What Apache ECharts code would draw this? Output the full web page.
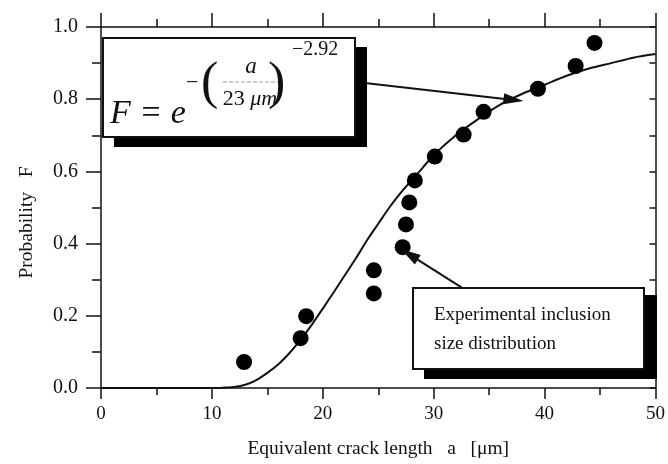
<!DOCTYPE html>
<html>
<head>
<meta charset="utf-8">
<script src="https://cdn.jsdelivr.net/npm/echarts@6/dist/echarts.min.js"></script>
<style>
html,body{margin:0;padding:0;background:#fff;}
#chart{width:668px;height:464px;}
</style>
</head>
<body>
<div id="chart"></div>
<script>
// Experimental inclusion size distribution (equivalent crack length a [µm], probability F)
const expA = [12.9, 18.0, 18.5, 24.6, 24.6, 27.2, 27.5, 27.8, 28.3, 30.1, 32.7, 34.5, 39.4, 42.8, 44.5];
const expF = [0.072, 0.138, 0.199, 0.262, 0.326, 0.390, 0.453, 0.514, 0.575, 0.641, 0.702, 0.765, 0.829, 0.892, 0.956];

// Fitted curve
const fitA = [0, 5, 10, 11, 12, 13, 14, 15, 16, 17, 18, 19, 20, 21, 22, 23, 24, 25, 26, 27, 28, 29, 30, 32, 34, 36, 38, 40, 42, 44, 46, 48, 50];
const fitF = [0, 0, 0, 0.001, 0.003, 0.009, 0.022, 0.042, 0.066, 0.097, 0.134, 0.175, 0.22, 0.266, 0.313, 0.36, 0.41, 0.455, 0.50, 0.54, 0.575, 0.61, 0.645, 0.70, 0.745, 0.785, 0.815, 0.84, 0.865, 0.885, 0.90, 0.915, 0.925];

// Axis ticks
const xTicks = [0, 10, 20, 30, 40, 50];
const yTicks = ['0.0', '0.2', '0.4', '0.6', '0.8', '1.0'];

// Annotation arrows (data coordinates: tail -> tip)
const arrowFit = [[23.8, 0.845], [37.2, 0.798]];
const arrowExp = [[32.5, 0.279], [27.8, 0.370]];

const FONT = '"Liberation Serif", "Times New Roman", serif';
const INK = '#111';

const chart = echarts.init(document.getElementById('chart'));

const axisLineStyle = { color: INK, width: 1.5 };

const option = {
  animation: false,
  backgroundColor: '#fff',
  grid: { left: 101, right: 9, top: 27, bottom: 75 },
  xAxis: [
    {
      type: 'value', min: xTicks[0], max: xTicks[xTicks.length - 1], interval: 10,
      position: 'bottom',
      axisLine: { onZero: false, lineStyle: axisLineStyle },
      axisTick: { inside: false, length: 11, lineStyle: axisLineStyle },
      minorTick: { show: true, splitNumber: 2, length: 7, lineStyle: axisLineStyle },
      splitLine: { show: false },
      axisLabel: { fontFamily: FONT, fontSize: 19, color: '#111', margin: 17 },
      name: 'Equivalent crack length   a   [μm]',
      nameLocation: 'middle', nameGap: 51,
      nameTextStyle: { fontFamily: FONT, fontSize: 19.5, color: '#111' }
    },
    {
      type: 'value', min: xTicks[0], max: xTicks[xTicks.length - 1], interval: 10,
      position: 'top',
      axisLine: { onZero: false, lineStyle: axisLineStyle },
      axisTick: { inside: false, length: 14, lineStyle: axisLineStyle },
      minorTick: { show: true, splitNumber: 2, length: 8, lineStyle: axisLineStyle },
      splitLine: { show: false },
      axisLabel: { show: false }
    }
  ],
  yAxis: [
    {
      type: 'value', min: 0, max: 1, interval: 0.2,
      position: 'left',
      axisLine: { onZero: false, lineStyle: axisLineStyle },
      axisTick: { inside: false, length: 15, lineStyle: axisLineStyle },
      minorTick: { show: true, splitNumber: 2, length: 9, lineStyle: axisLineStyle },
      splitLine: { show: false },
      axisLabel: {
        fontFamily: FONT, fontSize: 20, color: '#111', margin: 23,
        formatter: (v) => yTicks[Math.round(v / 0.2)]
      },
      name: 'Probability   F',
      nameLocation: 'middle', nameGap: 64,
      nameTextStyle: { fontFamily: FONT, fontSize: 19.5, color: '#111', padding: [0, 30, 0, 0] }
    },
    {
      type: 'value', min: 0, max: 1, interval: 0.1,
      position: 'right',
      axisLine: { onZero: false, lineStyle: axisLineStyle },
      axisTick: { inside: true, length: 6, lineStyle: axisLineStyle },
      splitLine: { show: false },
      axisLabel: { show: false }
    }
  ],
  series: [
    {
      name: 'fit',
      type: 'line',
      xAxisIndex: 0, yAxisIndex: 0,
      data: fitA.map((a, i) => [a, fitF[i]]),
      smooth: 0.3,
      showSymbol: false,
      lineStyle: { color: INK, width: 2 },
      z: 2
    },
    {
      name: 'experimental',
      type: 'scatter',
      xAxisIndex: 0, yAxisIndex: 0,
      data: expA.map((a, i) => [a, expF[i]]),
      symbol: 'circle',
      symbolSize: 16,
      itemStyle: { color: '#000', opacity: 1 },
      z: 3,
      markLine: {
        silent: true,
        symbol: ['none', 'triangle'],
        symbolSize: [11, 20],
        label: { show: false },
        lineStyle: { color: INK, width: 2, type: 'solid' },
        data: [
          [{ coord: arrowFit[0] }, { coord: arrowFit[1] }],
          [{ coord: arrowExp[0] }, { coord: arrowExp[1] }]
        ]
      }
    }
  ],
  graphic: [
    // Formula box shadow + box
    { type: 'rect', shape: { x: 114, y: 47, width: 253, height: 100 }, style: { fill: '#000' }, z: 10 },
    { type: 'rect', shape: { x: 103, y: 38, width: 252, height: 99 }, style: { fill: '#fff', stroke: INK, lineWidth: 2 }, z: 11 },
    { type: 'text', z: 12, style: { text: 'F = e', x: 110, y: 114, font: 'italic 34px ' + FONT, fill: '#111', textAlign: 'left', textVerticalAlign: 'middle' } },
    { type: 'text', z: 12, style: { text: '−', x: 186, y: 83, font: 'normal 22px ' + FONT, fill: '#111', textAlign: 'left', textVerticalAlign: 'middle' } },
    { type: 'text', z: 12, style: { text: '(', x: 201, y: 84, font: 'normal 52px ' + FONT, fill: '#111', textAlign: 'left', textVerticalAlign: 'middle' } },
    { type: 'text', z: 12, style: { text: ')', x: 268, y: 84, font: 'normal 52px ' + FONT, fill: '#111', textAlign: 'left', textVerticalAlign: 'middle' } },
    { type: 'text', z: 12, style: { text: 'a', x: 251, y: 67, font: 'italic 23px ' + FONT, fill: '#111', textAlign: 'center', textVerticalAlign: 'middle' } },
    { type: 'line', z: 12, shape: { x1: 223, y1: 82, x2: 278, y2: 82 }, style: { stroke: '#999', lineWidth: 1, lineDash: [4, 2] } },
    { type: 'text', z: 12, style: {
        text: '{n|23 }{u|μm}', x: 250, y: 99, textAlign: 'center', textVerticalAlign: 'middle',
        rich: { n: { font: 'normal 22px ' + FONT, fill: '#111' }, u: { font: 'italic 22px ' + FONT, fill: '#111' } }
    } },
    { type: 'text', z: 12, style: { text: '−2.92', x: 292, y: 50, font: 'normal 20px ' + FONT, fill: '#111', textAlign: 'left', textVerticalAlign: 'middle' } },

    // Experimental box shadow + box
    { type: 'rect', shape: { x: 424, y: 295, width: 233, height: 84 }, style: { fill: '#000' }, z: 10 },
    { type: 'rect', shape: { x: 413, y: 288, width: 231, height: 81 }, style: { fill: '#fff', stroke: INK, lineWidth: 2 }, z: 11 },
    { type: 'text', z: 12, style: { text: 'Experimental inclusion', x: 434, y: 315, font: 'normal 19px ' + FONT, fill: '#111', textAlign: 'left', textVerticalAlign: 'middle' } },
    { type: 'text', z: 12, style: { text: 'size distribution', x: 434, y: 344, font: 'normal 19px ' + FONT, fill: '#111', textAlign: 'left', textVerticalAlign: 'middle' } }
  ]
};

chart.setOption(option);
</script>
</body>
</html>
